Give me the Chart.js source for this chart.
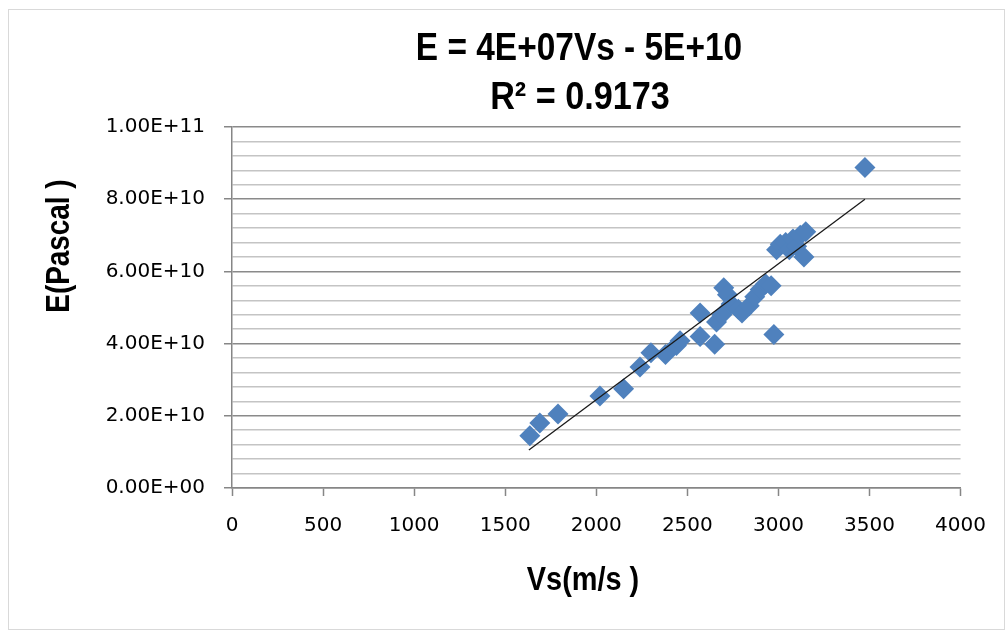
<!DOCTYPE html>
<html><head><meta charset="utf-8">
<script src="https://cdn.jsdelivr.net/npm/chart.js@4.4.1/dist/chart.umd.min.js"></script>
<style>
html,body{margin:0;padding:0;background:#fff;}
#box{position:absolute;left:8px;top:9px;width:995px;height:619px;border:1px solid #d9d9d9;background:#fff;}
canvas{display:block;}
</style></head><body>
<div id="box"><canvas id="c" width="995" height="619"></canvas></div>
<script>
// ---- data ----
const vsValues = [1635, 1690, 1790, 2020, 2150, 2240, 2300, 2380, 2440, 2460,
  2570, 2570, 2650, 2660, 2690, 2700, 2720, 2740, 2780, 2800, 2840, 2870, 2900, 2930, 2960, 2975,
  2990, 3010, 3040, 3060, 3080, 3100, 3120, 3150, 3140, 3475];
const eValues = [1.45e10, 1.80e10, 2.05e10, 2.55e10, 2.75e10, 3.35e10, 3.75e10, 3.70e10, 3.95e10, 4.08e10,
  4.85e10, 4.20e10, 3.98e10, 4.60e10, 4.80e10, 5.55e10, 5.35e10, 5.10e10, 4.95e10, 4.85e10, 5.05e10, 5.30e10, 5.50e10, 5.65e10, 5.60e10, 4.25e10,
  6.60e10, 6.75e10, 6.80e10, 6.60e10, 6.90e10, 6.70e10, 7.00e10, 7.10e10, 6.40e10, 8.88e10];
const trendVs = [1630, 3475];
const trendE = [1.05e10, 8.0e10];
const yMajorValues = [0, 2e10, 4e10, 6e10, 8e10, 1e11];
const yTickLabels = ['0.00E+00', '2.00E+10', '4.00E+10', '6.00E+10', '8.00E+10', '1.00E+11'];
const titleLines = ['E = 4E+07Vs - 5E+10', 'R\u00B2 = 0.9173'];
const xTitle = 'Vs(m/s )';
const yTitle = 'E(Pascal )';

const points = vsValues.map((v, i) => ({x: v, y: eValues[i]}));
const trend = trendVs.map((v, i) => ({x: v, y: trendE[i]}));

function majorIndex(v) {
  for (let i = 0; i < yMajorValues.length; i++) if (Math.abs(v - yMajorValues[i]) < 1) return i;
  return -1;
}

const boldFam = '"Liberation Sans", Arial, sans-serif';

function drawNarrow(ctx, text, x, y, sx) {
  ctx.save();
  ctx.translate(x, y);
  ctx.scale(sx, 1);
  ctx.fillText(text, 0, 0);
  ctx.restore();
}

const textPlugin = {
  id: 'texts',
  afterDraw(chart) {
    const ctx = chart.ctx;
    ctx.save();
    ctx.fillStyle = '#000';
    ctx.textAlign = 'center';
    ctx.textBaseline = 'alphabetic';
    ctx.font = 'bold 38px ' + boldFam;
    drawNarrow(ctx, titleLines[0], 570, 50, 0.88);
    drawNarrow(ctx, titleLines[1], 571, 99, 0.9);
    ctx.font = 'bold 34px ' + boldFam;
    drawNarrow(ctx, xTitle, 574, 580, 0.85);
    ctx.translate(60, 236);
    ctx.rotate(-Math.PI / 2);
    drawNarrow(ctx, yTitle, 0, 0, 0.82);
    ctx.restore();
  }
};

new Chart(document.getElementById('c'), {
  type: 'scatter',
  data: {
    datasets: [
      {
        type: 'line',
        label: 'trend',
        data: trend,
        borderColor: '#1a1a1a',
        borderWidth: 1.3,
        pointRadius: 0,
        fill: false,
        order: 0
      },
      {
        label: 'E',
        data: points,
        pointStyle: 'rectRot',
        pointRadius: 10.5,
        pointHoverRadius: 10.5,
        backgroundColor: '#4F81BD',
        borderColor: '#4F81BD',
        borderWidth: 0,
        order: 1
      }
    ]
  },
  options: {
    responsive: false,
    animation: false,
    layout: { padding: { left: 0, right: 43, top: 117, bottom: 0 } },
    plugins: { legend: { display: false }, title: { display: false }, tooltip: { enabled: false } },
    scales: {
      x: {
        type: 'linear',
        min: 0, max: 4000,
        afterFit(s) { s.height = 141; },
        ticks: { stepSize: 500, padding: 18, color: '#000', font: { family: 'DejaVu Sans', size: 20 },
          callback(v) { return String(v); } },
        grid: { drawOnChartArea: false, drawTicks: true, tickLength: 8, tickColor: '#868686', tickWidth: 1.5 },
        border: { color: '#868686', width: 1.5 }
      },
      y: {
        type: 'linear',
        min: 0, max: 1e11,
        afterFit(s) { s.width = 223; },
        ticks: {
          stepSize: 4e9, autoSkip: false, maxTicksLimit: 40, padding: 19, color: '#000',
          font: { family: 'DejaVu Sans', size: 20 },
          callback(v) { const k = majorIndex(v); return k >= 0 ? yTickLabels[k] : ''; }
        },
        grid: {
          tickLength: 8,
          color(ctx) { return majorIndex(ctx.tick.value) >= 0 ? '#8a8a8a' : '#c4c4c4'; },
          lineWidth: 1.5,
          tickColor(ctx) { return majorIndex(ctx.tick.value) >= 0 ? '#868686' : 'rgba(0,0,0,0)'; }
        },
        border: { color: '#868686', width: 1.5 }
      }
    }
  },
  plugins: [textPlugin]
});
</script>
</body></html>
